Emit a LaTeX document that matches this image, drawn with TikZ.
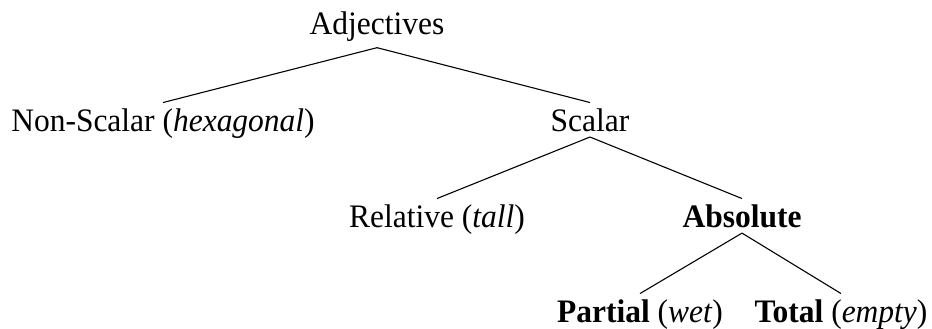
\documentclass[tikz,border=0pt]{standalone}
\usepackage{fontspec}
\setmainfont{Liberation Serif}[FakeStretch=0.96]
\begin{document}
\begin{tikzpicture}[x=1pt,y=1pt,
  lbl/.style={anchor=base,inner sep=5.5pt,font=\fontsize{32.8}{39}\selectfont},
  edge/.style={line width=1.1pt}]
\useasboundingbox (0,0) rectangle (932,-329);
\node[lbl] (adj) at (377,-35) {Adjectives};
\node[lbl] (non) at (163,-131) {Non-Scalar (\textit{hexagonal})};
\node[lbl] (sca) at (590,-131) {Scalar};
\node[lbl] (rel) at (437,-227) {Relative (\textit{tall})};
\node[lbl] (abs) at (742,-227) {\textbf{Absolute}};
\node[lbl] (par) at (640,-322) {\textbf{Partial} (\textit{wet})};
\node[lbl] (tot) at (841,-322) {\textbf{Total} (\textit{empty})};
\draw[edge] (adj.south) -- (non.north);
\draw[edge] (adj.south) -- (sca.north);
\draw[edge] (sca.south) -- (rel.north);
\draw[edge] (sca.south) -- (abs.north);
\draw[edge] (abs.south) -- (par.north);
\draw[edge] (abs.south) -- (tot.north);
\end{tikzpicture}
\end{document}
